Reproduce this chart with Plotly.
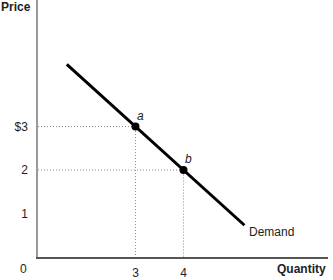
import plotly.graph_objects as go

# Data
demand_q = [1.57, 5.27]
demand_p = [4.43, 0.73]
point_labels = ["a", "b"]
point_q = [3, 4]
point_p = [3, 2]
y_tick_vals = [1, 2, 3]
y_tick_text = ["1", "2", "$3"]
x_tick_vals = [3, 4]
x_tick_text = ["3", "4"]

FONT = "Liberation Sans, Arial, Helvetica, sans-serif"
TXT = "#222222"

fig = go.Figure()

# dotted guide lines
for q, p in zip(point_q, point_p):
    fig.add_trace(go.Scatter(x=[0.97, q, q], y=[p, p, 0], mode="lines",
                             line=dict(color="#8a8a8a", width=1, dash="1px,2px"),
                             hoverinfo="skip", showlegend=False))

fig.add_trace(go.Scatter(x=demand_q, y=demand_p, mode="lines",
                         line=dict(color="black", width=3),
                         showlegend=False))

fig.add_trace(go.Scatter(x=point_q, y=point_p, mode="markers",
                         marker=dict(color="black", size=8),
                         showlegend=False))

for lab, q, p in zip(point_labels, point_q, point_p):
    fig.add_annotation(x=q, y=p, text="<i>" + lab + "</i>", showarrow=False,
                       xanchor="center", yanchor="middle", xshift=5, yshift=11,
                       font=dict(family=FONT, size=12, color=TXT))

fig.add_annotation(x=demand_q[1], y=demand_p[1], text="Demand", showarrow=False,
                   xanchor="left", yanchor="middle", xshift=3, yshift=-7,
                   font=dict(family=FONT, size=12, color=TXT))

fig.add_annotation(xref="paper", yref="paper", x=0, y=1, text="<b>Price</b>",
                   showarrow=False, xanchor="right", yanchor="top", xshift=-5, yshift=2,
                   font=dict(family=FONT, size=12, color=TXT))
fig.add_annotation(xref="paper", yref="paper", x=1, y=0, text="<b>Quantity</b>",
                   showarrow=False, xanchor="right", yanchor="top", yshift=-3,
                   font=dict(family=FONT, size=12, color=TXT))
fig.add_annotation(xref="paper", yref="paper", x=0, y=0, text="0",
                   showarrow=False, xanchor="right", yanchor="top", xshift=-9, yshift=-3,
                   font=dict(family=FONT, size=12, color=TXT))

fig.update_xaxes(range=[0.97, 7.01], showgrid=False, zeroline=False,
                 showline=True, linecolor="#555555", linewidth=1.5,
                 tickvals=x_tick_vals, ticktext=x_tick_text, ticks="",
                 ticklabelstandoff=4,
                 tickfont=dict(family=FONT, size=12, color=TXT))
fig.update_yaxes(range=[0, 5.91], showgrid=False, zeroline=False,
                 showline=True, linecolor="#9a9a9a", linewidth=1.5,
                 tickvals=y_tick_vals, ticktext=y_tick_text, ticks="",
                 ticklabelstandoff=6,
                 tickfont=dict(family=FONT, size=12, color=TXT))

fig.update_layout(width=333, height=280,
                  margin=dict(l=38, r=5, t=0, b=20),
                  plot_bgcolor="white", paper_bgcolor="white")

fig.write_html("out.html")
